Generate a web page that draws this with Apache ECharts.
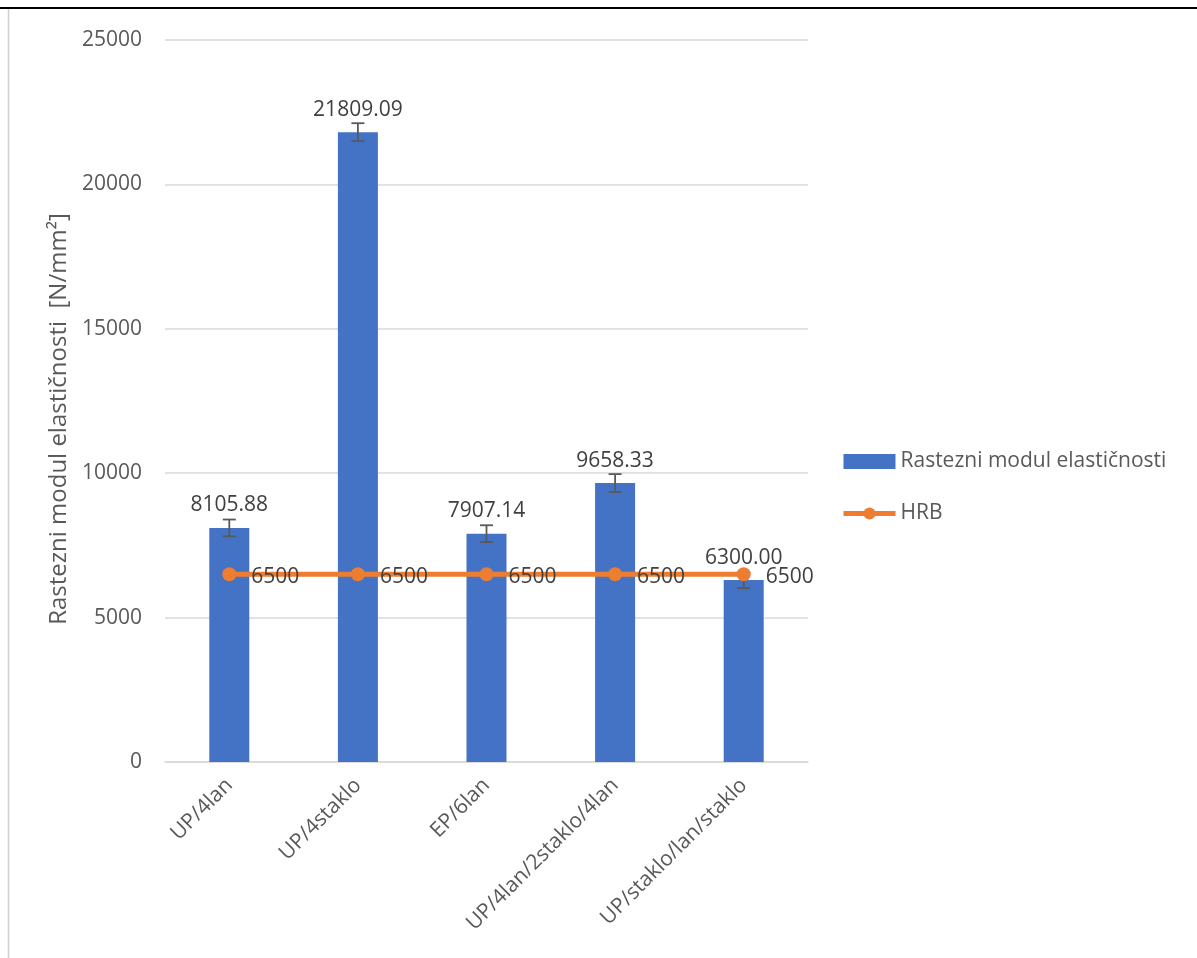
<!DOCTYPE html>
<html>
<head>
<meta charset="utf-8">
<script src="https://cdn.jsdelivr.net/npm/echarts@6/dist/echarts.min.js"></script>
<style>
html,body{margin:0;padding:0;background:#fff;}
#c{width:1197px;height:958px;}
</style>
</head>
<body>
<div id="c"></div>
<script>
const categories = ['UP/4lan', 'UP/4staklo', 'EP/6lan', 'UP/4lan/2staklo/4lan', 'UP/staklo/lan/staklo'];
const modulValues = [8105.88, 21809.09, 7907.14, 9658.33, 6300.00];
const modulErrors = [290, 310, 290, 310, 280];
const hrbValues = [6500, 6500, 6500, 6500, 6500];
const yTicks = [0, 5000, 10000, 15000, 20000, 25000];

const FONT = '"Open Sans", "Noto Sans", sans-serif';
const TXT = '#595959';

const chart = echarts.init(document.getElementById('c'));
const errData = categories.map((c, i) => [i, modulValues[i] - modulErrors[i], modulValues[i] + modulErrors[i]]);

chart.setOption({
  animation: false,
  textStyle: { fontFamily: FONT },
  graphic: [
    { type: 'line', shape: { x1: 0, y1: 8, x2: 1197, y2: 8 }, style: { stroke: '#000', lineWidth: 2 } },
    { type: 'line', shape: { x1: 8.5, y1: 9, x2: 8.5, y2: 958 }, style: { stroke: '#d0d0d0', lineWidth: 1.5 } }
  ],
  grid: { left: 165, right: 389, top: 40, bottom: 196 },
  legend: {
    orient: 'vertical',
    left: 841,
    top: 451,
    padding: 0,
    itemGap: 31,
    itemWidth: 52,
    itemHeight: 15,
    textStyle: { color: TXT, fontSize: 21, fontFamily: FONT },
    data: [
      { name: 'Rastezni modul elastičnosti', icon: 'rect' },
      { name: 'HRB', lineStyle: { width: 5, color: '#ED7D31' }, itemStyle: { color: '#ED7D31' } }
    ]
  },
  xAxis: {
    type: 'category',
    data: categories,
    axisLine: { lineStyle: { color: '#d9d9d9', width: 1.5 } },
    axisTick: { show: false },
    axisLabel: { rotate: 45, color: TXT, fontSize: 21, fontFamily: FONT, margin: 20 }
  },
  yAxis: {
    type: 'value',
    min: 0, max: 25000, interval: 5000,
    name: 'Rastezni modul elastičnosti  [N/mm²]',
    nameLocation: 'middle',
    nameGap: 90,
    nameTextStyle: { color: TXT, fontSize: 24, fontFamily: FONT, padding: [0, 36, 0, 0] },
    axisLine: { show: false },
    axisTick: { show: false },
    splitLine: { lineStyle: { color: '#d9d9d9', width: 1.5 } },
    axisLabel: { color: TXT, fontSize: 21, fontFamily: FONT, margin: 23, formatter: v => String(v) }
  },
  series: [
    {
      name: 'Rastezni modul elastičnosti',
      type: 'bar',
      data: modulValues,
      barWidth: 40,
      itemStyle: { color: '#4472C4' },
      label: {
        show: true, position: 'top', distance: 12,
        color: '#404040', fontSize: 21, fontFamily: FONT,
        formatter: p => p.value.toFixed(2)
      },
      z: 2
    },
    {
      name: 'errors',
      type: 'custom',
      data: errData,
      z: 3,
      renderItem: function (params, api) {
        const x = api.value(0);
        const lo = api.coord([x, api.value(1)]);
        const hi = api.coord([x, api.value(2)]);
        const hw = 6.5;
        const st = { stroke: '#595959', lineWidth: 1.8 };
        return {
          type: 'group',
          children: [
            { type: 'line', shape: { x1: lo[0], y1: lo[1], x2: hi[0], y2: hi[1] }, style: st },
            { type: 'line', shape: { x1: lo[0] - hw, y1: lo[1], x2: lo[0] + hw, y2: lo[1] }, style: st },
            { type: 'line', shape: { x1: hi[0] - hw, y1: hi[1], x2: hi[0] + hw, y2: hi[1] }, style: st }
          ]
        };
      },
      encode: { x: 0, y: [1, 2] }
    },
    {
      name: 'HRB',
      type: 'line',
      data: hrbValues,
      z: 4,
      symbol: 'circle',
      symbolSize: 14,
      lineStyle: { color: '#ED7D31', width: 5 },
      itemStyle: { color: '#ED7D31' },
      label: {
        show: true, position: 'right', distance: 15, offset: [0, 3],
        color: '#404040', fontSize: 21, fontFamily: FONT
      }
    }
  ]
});
</script>
</body>
</html>
